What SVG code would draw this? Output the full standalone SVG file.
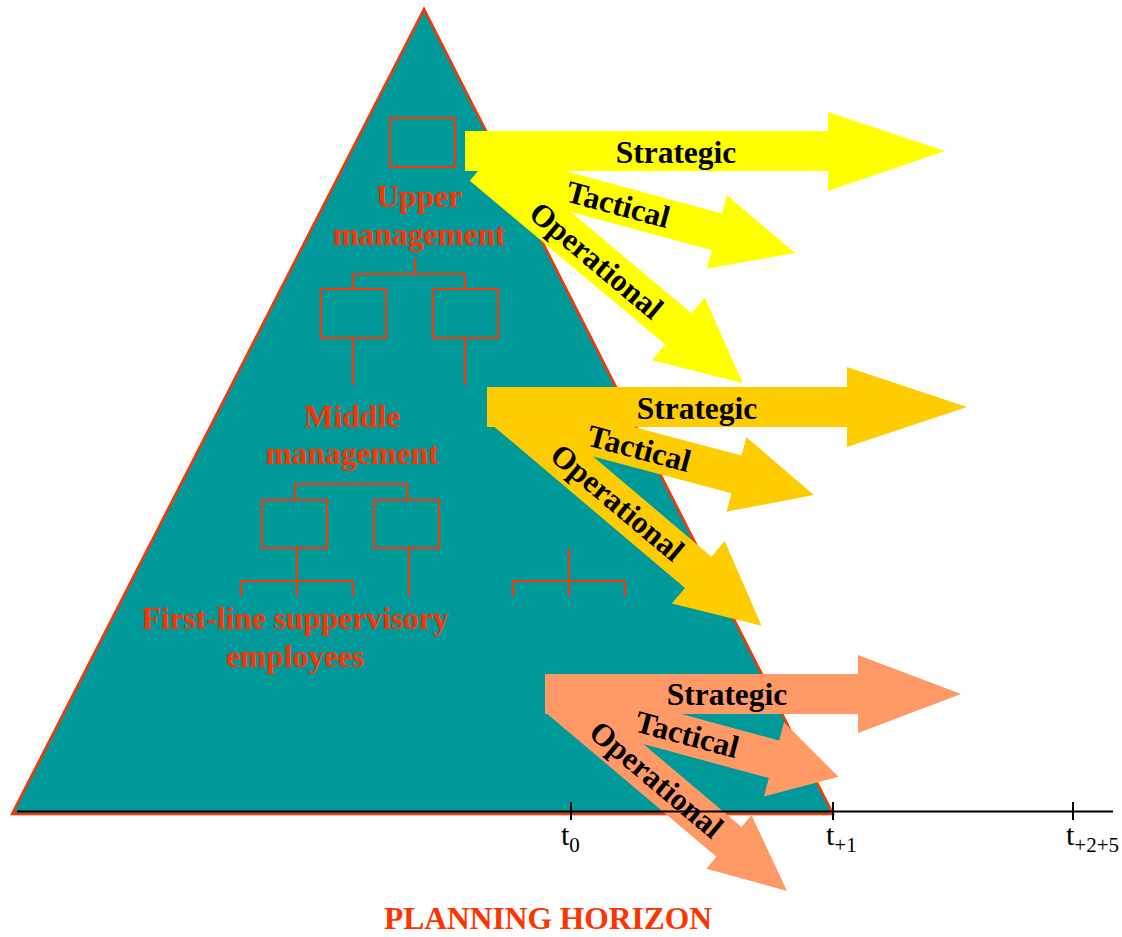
<svg xmlns="http://www.w3.org/2000/svg" width="1122" height="937" viewBox="0 0 1122 937">
  <style>
    .lvl { font-family: "Liberation Serif", "Times New Roman", serif; font-weight: bold; font-size: 31.5px; fill: #FF3300; text-anchor: middle; }
    .lab { font-family: "Liberation Serif", "Times New Roman", serif; font-weight: bold; font-size: 31.5px; fill: #000000; text-anchor: middle; }
    .tick { font-family: "Liberation Serif", "Times New Roman", serif; font-size: 30px; fill: #000000; }
    .box { fill: none; stroke: #FF3300; stroke-width: 2; }
    .link { fill: none; stroke: #FF3300; stroke-width: 2; }
    .yel { fill: #FFFF00; }
    .gold { fill: #FFCC00; }
    .sal { fill: #FF9966; }
  </style>

  <!-- pyramid -->
  <g id="pyramid">
    <polygon points="424,9 833,814 12,814" fill="#009999" stroke="#FF3300" stroke-width="2.5" stroke-linejoin="miter"/>
  </g>

  <!-- organisation chart boxes -->
  <g id="upper-management">
    <rect class="box" x="390" y="118" width="65" height="49"/>
    <text class="lvl" x="419" y="207">Upper</text>
    <text class="lvl" x="419" y="245">management</text>
  </g>
  <g id="middle-management">
    <rect class="box" x="321" y="289" width="65" height="49"/>
    <rect class="box" x="433" y="289" width="65" height="49"/>
    <text class="lvl" x="352" y="427">Middle</text>
    <text class="lvl" x="352" y="464">management</text>
  </g>
  <g id="first-line">
    <rect class="box" x="262" y="500" width="65" height="48"/>
    <rect class="box" x="374" y="500" width="65" height="48"/>
    <text class="lvl" x="295" y="629">First-line suppervisory</text>
    <text class="lvl" x="295" y="667">employees</text>
  </g>

  <!-- reporting lines -->
  <g id="connectors">
    <path class="link" d="M415,258 V274 M353,274 H465 M353,274 V289 M465,274 V289"/>
    <path class="link" d="M353,338 V385 M465,338 V385"/>
    <path class="link" d="M295,484 H407 M295,484 V500 M407,484 V500"/>
    <path class="link" d="M297,548 V596 M241,581 H353 M241,581 V596 M353,581 V596"/>
    <path class="link" d="M409,548 V596"/>
    <path class="link" d="M569,548 V596 M513,581 H625 M513,581 V596 M625,581 V596"/>
  </g>

  <!-- upper level horizons -->
  <g id="upper-horizons">
    <polygon class="yel" points="465,131 828,131 828,112 945,151 828,191 828,171 465,171"/>
    <polygon class="yel" transform="translate(500,173) rotate(15.17)" points="0,-19 224.7,-19 224.7,-38 305.7,0 224.7,38 224.7,19 0,19"/>
    <polygon class="yel" transform="translate(483,165) rotate(40)" points="0,-20.5 255,-20.5 255,-41 339,0 255,41 255,20.5 0,20.5"/>
    <text class="lab" x="676" y="163">Strategic</text>
    <text class="lab" transform="translate(618,205) rotate(15)" y="10">Tactical</text>
    <text class="lab" transform="translate(596,261) rotate(40)" y="10">Operational</text>
  </g>

  <!-- middle level horizons -->
  <g id="middle-horizons">
    <polygon class="gold" points="487,387 847,387 847,367 967,407 847,447 847,427 487,427"/>
    <polygon class="gold" transform="translate(520,417) rotate(14.86)" points="0,-19.5 224,-19.5 224,-38.5 304,0 224,38.5 224,19.5 0,19.5"/>
    <polygon class="gold" transform="translate(505,409) rotate(40.2)" points="0,-20.5 253,-20.5 253,-41 336,0 253,41 253,20.5 0,20.5"/>
    <text class="lab" x="697" y="419">Strategic</text>
    <text class="lab" transform="translate(639,449) rotate(15)" y="10">Tactical</text>
    <text class="lab" transform="translate(617,503) rotate(40)" y="10">Operational</text>
  </g>

  <!-- first-line horizons -->
  <g id="first-line-horizons">
    <polygon class="sal" points="545,674 858,674 858,655 961,694 858,733 858,714 545,714"/>
    <polygon class="sal" transform="translate(580,706.6) rotate(15.2)" points="0,-19.5 201,-19.5 201,-38.5 268,0 201,38.5 201,19.5 0,19.5"/>
    <polygon class="sal" transform="translate(557.5,697) rotate(40.2)" points="0,-19.5 224.5,-19.5 224.5,-35 300.5,0 224.5,35 224.5,19.5 0,19.5"/>
    <text class="lab" x="727" y="705">Strategic</text>
    <text class="lab" transform="translate(687,735) rotate(15)" y="10">Tactical</text>
    <text class="lab" transform="translate(656,780) rotate(40)" y="10">Operational</text>
  </g>

  <!-- time axis -->
  <g id="time-axis">
    <line x1="17" y1="811.5" x2="1113" y2="811.5" stroke="#000000" stroke-width="2"/>
    <path d="M571,802 V820 M833,802 V820 M1073,802 V820" stroke="#000000" stroke-width="2" fill="none"/>
    <text class="tick" x="561" y="845">t<tspan dy="7" font-size="21">0</tspan></text>
    <text class="tick" x="826" y="845">t<tspan dy="7" font-size="21">+1</tspan></text>
    <text class="tick" x="1066" y="845">t<tspan dy="7" font-size="21">+2+5</tspan></text>
  </g>

  <g id="title">
    <text class="lvl" x="548" y="929">PLANNING HORIZON</text>
  </g>
</svg>
